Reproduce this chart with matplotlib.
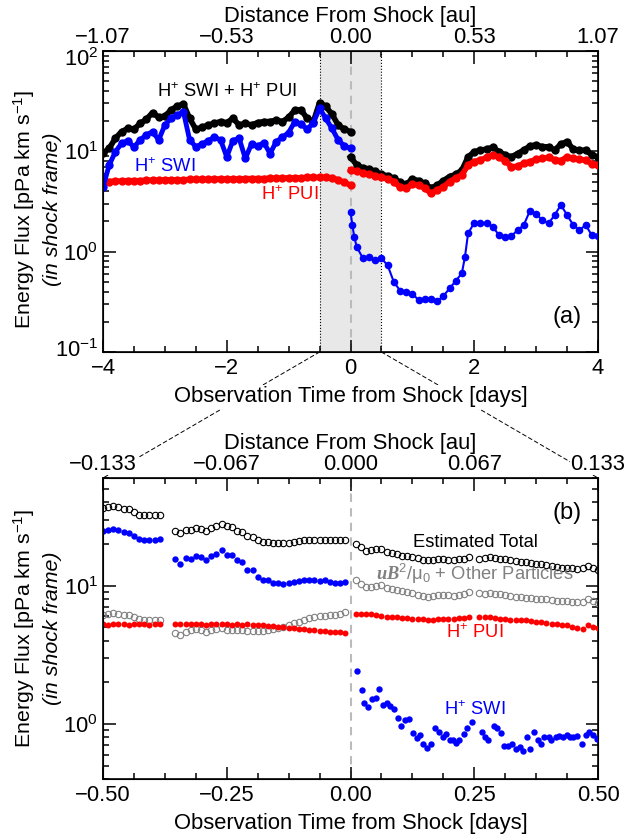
import numpy as np
import matplotlib
matplotlib.use("Agg")
import matplotlib.pyplot as plt
from matplotlib.ticker import MultipleLocator, NullFormatter, LogLocator
from matplotlib.patches import ConnectionPatch
from matplotlib.transforms import ScaledTranslation

plt.rcParams['font.family'] = ['Liberation Sans', 'DejaVu Sans']
plt.rcParams['mathtext.fontset'] = 'custom'
plt.rcParams['mathtext.rm'] = 'Liberation Sans'
plt.rcParams['mathtext.it'] = 'Liberation Sans:italic'
plt.rcParams['mathtext.bf'] = 'Liberation Sans:bold'
plt.rcParams['mathtext.bfit'] = 'Liberation Serif:italic:bold'

# ---- panel (a): -4 .. 4 days ----
t_a_pre = np.round(np.arange(-4.0, 0.001, 0.1), 2)
total_a_pre = [9.6, 10.7, 13.5, 15.7, 16.9, 16.6, 19.0, 20.8, 24.3, 21.8, 22.5, 25.8, 28.3, 29.6,
               21.3, 16.6, 17.3, 18.3, 19.0, 19.8, 19.3, 21.3, 18.3, 19.0, 18.3, 19.3, 19.8, 19.8,
               20.5, 19.8, 21.8, 25.8, 25.8, 21.3, 19.8, 30.6, 28.0, 23.5, 18.3, 16.6, 15.7]
swi_a_pre = [4.4, 7.3, 9.9, 12.0, 12.8, 11.0, 13.0, 14.6, 15.7, 13.0, 18.3, 21.3, 23.0, 24.8,
             13.0, 11.1, 11.8, 12.8, 13.8, 13.0, 8.8, 12.8, 13.5, 8.5, 11.8, 11.3, 12.2, 9.5,
             12.5, 13.8, 15.4, 19.8, 18.7, 16.6, 19.3, 26.8, 21.3, 16.9, 13.0, 11.3, 10.7]
pui_a_pre = [5.0, 5.0, 5.05, 5.05, 5.1, 5.1, 5.1, 5.15, 5.15, 5.15, 5.2, 5.2, 5.2, 5.2,
             5.25, 5.25, 5.25, 5.25, 5.3, 5.3, 5.3, 5.3, 5.3, 5.35, 5.35, 5.35, 5.35, 5.4,
             5.4, 5.4, 5.45, 5.45, 5.45, 5.5, 5.5, 5.5, 5.5, 5.45, 5.2, 4.9, 4.6]

t_a_post = np.round(np.arange(0.0, 4.001, 0.1), 2)
total_a_post = [8.8, 7.3, 6.8, 6.7, 6.3, 5.9, 5.7, 5.4, 4.9, 4.7,
                5.3, 5.1, 4.8, 4.3, 4.6, 5.1, 5.6, 5.9, 6.5, 8.8,
                9.9, 10.3, 10.5, 11.0, 9.9, 9.2, 8.8, 9.5, 10.3, 11.3,
                11.6, 11.1, 11.1, 10.3, 11.8, 12.5, 10.5, 10.2, 10.3, 9.2, 8.8]
pui_a_post = [6.5, 6.3, 6.1, 5.9, 5.7, 5.5, 5.3, 5.0, 4.4, 4.3,
              4.7, 4.6, 4.3, 3.8, 4.1, 4.4, 5.0, 5.4, 5.8, 7.3,
              7.9, 8.2, 8.7, 9.2, 8.7, 8.1, 7.0, 7.1, 7.6, 7.9,
              8.3, 8.5, 8.7, 8.2, 8.1, 8.8, 8.5, 8.3, 8.2, 7.5, 7.3]
t_swi_a_post = [0.0, 0.03, 0.06, 0.1, 0.2, 0.3, 0.4, 0.5, 0.6, 0.7, 0.8, 0.9, 1.0, 1.1, 1.2,
                1.3, 1.4, 1.5, 1.6, 1.7, 1.8, 1.85, 1.9, 2.0, 2.1, 2.2, 2.3, 2.4, 2.5, 2.6,
                2.7, 2.8, 2.9, 3.0, 3.1, 3.2, 3.3, 3.4, 3.5, 3.6, 3.7, 3.8, 3.9, 4.0]
swi_a_post = [2.5, 1.84, 1.41, 1.12, 0.86, 0.89, 0.82, 0.86, 0.73, 0.50, 0.41, 0.40, 0.38, 0.33, 0.34,
              0.34, 0.32, 0.36, 0.43, 0.51, 0.61, 0.89, 1.52, 1.94, 1.91, 1.94, 1.77, 1.46, 1.41, 1.43,
              1.64, 1.84, 2.56, 2.37, 2.07, 1.91, 2.32, 2.92, 2.32, 1.84, 1.64, 1.84, 1.46, 1.43]

# ---- panel (b): -0.5 .. 0.5 days, 15 min cadence with data gaps ----
k_b = np.concatenate([np.arange(-48, -36), np.arange(-34, 0), np.arange(1, 24), np.arange(25, 49)])
t_b = k_b / 96.0
total_b = [36.6, 37.0, 37.4, 36.8, 36.0, 35.6, 34.0, 32.6, 32.2, 32.4, 32.4, 32.4,
           25.0, 24.0, 25.2, 25.3, 26.3, 25.6, 25.0, 26.3, 26.8, 28.0, 27.0, 26.6, 25.0, 24.6,
           22.8, 22.6, 21.5, 20.8, 20.6, 20.2, 20.3, 20.2, 20.5, 20.7, 20.9, 21.2, 21.4, 21.4,
           21.3, 21.3, 21.3, 21.3, 21.2, 21.3,
           20.0, 18.9, 17.9, 18.0, 18.3, 18.4, 17.4, 17.1, 16.8, 16.4, 16.3, 16.1, 15.8, 15.4,
           15.2, 15.3, 15.6, 15.6, 15.3, 15.3, 15.5, 15.7, 16.0,
           15.6, 15.9, 16.2, 15.9, 15.6, 15.6, 15.3, 15.1, 14.8, 14.7, 14.5, 14.3, 14.3, 14.1,
           13.9, 13.7, 13.5, 13.4, 13.4, 13.2, 13.5, 13.9, 13.5, 13.0]
other_b = [6.18, 6.22, 6.30, 6.20, 6.15, 6.10, 5.95, 5.70, 5.62, 5.60, 5.64, 5.66,
           4.55, 4.42, 4.66, 4.74, 4.82, 4.74, 4.60, 4.78, 4.82, 4.92, 4.79, 4.80, 4.76, 4.76,
           4.67, 4.72, 4.68, 4.70, 4.74, 4.88, 4.96, 5.03, 5.18, 5.33, 5.50, 5.68, 5.84, 5.94,
           6.00, 6.07, 6.13, 6.18, 6.25, 6.40,
           11.0, 10.2, 9.75, 9.85, 9.99, 10.1, 9.6, 9.45, 9.3, 9.1, 8.93, 8.8, 8.6, 8.45,
           8.34, 8.4, 8.56, 8.6, 8.5, 8.47, 8.5, 8.7, 8.95,
           8.9, 8.75, 8.9, 8.75, 8.65, 8.5, 8.36, 8.34, 8.25, 8.17, 8.11, 8.03, 8.02, 7.94,
           7.89, 7.8, 7.8, 7.72, 7.67, 7.6, 7.67, 8.0, 7.8, 7.5]
pui_b = [5.24, 5.22, 5.24, 5.25, 5.24, 5.23, 5.24, 5.25, 5.24, 5.23, 5.24, 5.24,
         5.24, 5.25, 5.24, 5.24, 5.25, 5.24, 5.23, 5.24, 5.25, 5.24, 5.24, 5.23, 5.24, 5.23,
         5.24, 5.22, 5.20, 5.16, 5.13, 5.10, 5.06, 5.02, 4.98, 4.94, 4.88, 4.84, 4.80, 4.77,
         4.73, 4.70, 4.66, 4.62, 4.59, 4.56,
         6.25, 6.24, 6.22, 6.2, 6.15, 6.05, 5.98, 5.95, 5.9, 5.85, 5.8, 5.77, 5.74, 5.7,
         5.69, 5.69, 5.72, 5.74, 5.76, 5.78, 5.8, 5.85, 5.9,
         5.92, 5.95, 5.9, 5.85, 5.76, 5.72, 5.68, 5.65, 5.62, 5.6, 5.55, 5.5, 5.44, 5.38,
         5.3, 5.27, 5.2, 5.15, 5.03, 4.9, 4.85, 5.15, 5.03, 4.9]
swi_b_pre = [24.8, 25.2, 25.8, 25.4, 24.4, 24.2, 23.0, 21.8, 21.4, 21.4, 21.4, 21.6,
             15.6, 14.3, 15.8, 15.7, 16.4, 16.0, 15.2, 16.5, 16.8, 18.0, 16.7, 16.6, 15.4, 14.8,
             12.9, 12.9, 11.5, 11.0, 10.9, 10.4, 10.4, 10.2, 10.4, 10.6, 10.8, 11.0, 11.0, 11.0,
             10.8, 11.0, 10.7, 10.4, 10.4, 10.6]
t_swi_b_post = [0.0125, 0.0226, 0.028, 0.036, 0.043, 0.052, 0.058, 0.065, 0.073, 0.080,
                0.088, 0.095, 0.103, 0.110, 0.119, 0.126, 0.134, 0.140, 0.147, 0.154,
                0.162, 0.171, 0.179, 0.186, 0.193, 0.201, 0.208, 0.213, 0.220, 0.229,
                0.236, 0.245, 0.265, 0.272, 0.278, 0.289, 0.295, 0.304, 0.311, 0.319,
                0.326, 0.334, 0.343, 0.349, 0.356, 0.363, 0.371, 0.378, 0.385, 0.391,
                0.400, 0.406, 0.415, 0.422, 0.429, 0.437, 0.444, 0.450, 0.458, 0.467,
                0.475, 0.482, 0.489, 0.497]
swi_b_post = [2.40, 1.75, 1.41, 1.32, 1.51, 1.53, 1.78, 1.38, 1.41, 1.35,
              1.29, 1.10, 0.97, 1.07, 1.08, 0.86, 0.79, 0.83, 0.72, 0.67,
              0.72, 0.94, 0.87, 0.81, 0.84, 0.77, 0.77, 0.73, 0.77, 0.84,
              0.94, 1.04, 0.88, 0.81, 0.77, 0.96, 0.93, 0.86, 0.69, 0.69,
              0.72, 0.66, 0.68, 0.64, 0.80, 0.66, 0.88, 0.77, 0.72, 0.80,
              0.81, 0.77, 0.81, 0.82, 0.81, 0.83, 0.81, 0.80, 0.82, 0.72,
              0.83, 0.87, 0.83, 0.78]

ticks_a = [-4, -2, 0, 2, 4]
bot_labels_a = ['\u22124', '\u22122', '0', '2', '4']
top_labels_a = ['\u22121.07', '\u22120.53', '0.00', '0.53', '1.07']
yticks_a = [0.1, 1, 10, 100]
ticks_b = [-0.5, -0.25, 0, 0.25, 0.5]
bot_labels_b = ['\u22120.50', '\u22120.25', '0.00', '0.25', '0.50']
top_labels_b = ['\u22120.133', '\u22120.067', '0.000', '0.067', '0.133']
yticks_b = [1, 10]

FS = 15.8
TFS = 13.2
BLUE = '#0000ff'
RED = '#ff0000'
GRAY = '#808080'

fig = plt.figure(figsize=(6.26, 8.36), dpi=100)
ax_a = fig.add_axes([103/626, (836-352)/836, 495/626, 301/836])
ax_b = fig.add_axes([103/626, (836-779)/836, 495/626, 301/836])


def style_axes(ax, ticks, minor, labels, top_labels, yticks):
    ax.set_yscale('log')
    ax.set_yticks(yticks)
    ax.set_xticks(ticks)
    ax.set_xticklabels(labels)
    ax.xaxis.set_minor_locator(MultipleLocator(minor))
    ax.yaxis.set_minor_locator(LogLocator(subs=np.arange(2, 10)))
    ax.yaxis.set_minor_formatter(NullFormatter())
    ax.tick_params(which='both', direction='in', top=False, right=True, labelsize=FS, width=1.1)
    ax.tick_params(axis='x', pad=4.5)
    ax.tick_params(which='major', length=9)
    ax.tick_params(which='minor', length=4.5)
    for s in ax.spines.values():
        s.set_linewidth(1.2)
    top = ax.twiny()
    top.set_xlim(ax.get_xlim())
    top.set_xticks(ticks)
    top.set_xticklabels(top_labels)
    top.xaxis.set_minor_locator(MultipleLocator(minor))
    top.tick_params(which='both', direction='in', labelsize=FS, width=1.1, pad=2.5)
    top.tick_params(which='major', length=9)
    top.tick_params(which='minor', length=4.5)
    top.set_xlabel('Distance From Shock [au]', fontsize=FS, labelpad=3)
    return top


def ylabel(ax, y):
    ax.text(-0.160, y, 'Energy Flux [pPa km s$^{-1}$]', transform=ax.transAxes,
            rotation=90, ha='center', va='center', fontsize=15.4)
    ax.text(-0.103, y, '(in shock frame)', transform=ax.transAxes, style='italic',
            rotation=90, ha='center', va='center', fontsize=15.4)


# ---- panel (a) ----
ax_a.set_xlim(-4, 4)
ax_a.set_ylim(0.1, 100)
ax_a.axvspan(-0.5, 0.5, color='#e8e8e8', zorder=0, lw=0)
ax_a.axvline(-0.5, color='k', ls=':', lw=0.8, zorder=1)
ax_a.axvline(0.5, color='k', ls=':', lw=0.8, zorder=1)
ax_a.axvline(0, color='#bbbbbb', ls=(0, (4, 3)), lw=1.5, zorder=1)

ax_a.plot(t_a_pre, total_a_pre, '-o', color='k', lw=4, ms=5, zorder=3)
ax_a.plot(t_a_post, total_a_post, '-o', color='k', lw=4, ms=5, zorder=3)
ax_a.plot(t_a_pre, pui_a_pre, '-o', color=RED, lw=4, ms=5, zorder=4)
ax_a.plot(t_a_post, pui_a_post, '-o', color=RED, lw=4, ms=5, zorder=4)
ax_a.plot(t_a_pre, swi_a_pre, '-o', color=BLUE, lw=3.5, ms=5, zorder=5)
ax_a.plot(t_swi_a_post, swi_a_post, '-o', color=BLUE, lw=1.5, ms=4.5, zorder=5)

top_a = style_axes(ax_a, ticks_a, 0.5, bot_labels_a, top_labels_a, yticks_a)
ax_a.set_xlabel('Observation Time from Shock [days]', fontsize=FS, labelpad=5,
                bbox=dict(facecolor='white', edgecolor='none', pad=1))
ylabel(ax_a, 0.475)

# IDL-like placement of the end labels of the log axis
yt = ax_a.yaxis.get_major_ticks()
yt[0].label1.set_transform(yt[0].label1.get_transform() + ScaledTranslation(0, 4/100, fig.dpi_scale_trans))
yt[-1].label1.set_transform(yt[-1].label1.get_transform() + ScaledTranslation(0, -6/100, fig.dpi_scale_trans))

ax_a.text(0.25, 0.864, 'H$^{+}$ SWI + H$^{+}$ PUI', transform=ax_a.transAxes,
          ha='center', va='center', fontsize=TFS, color='k')
ax_a.text(0.125, 0.615, 'H$^{+}$ SWI', transform=ax_a.transAxes,
          ha='center', va='center', fontsize=TFS, color=BLUE)
ax_a.text(0.378, 0.522, 'H$^{+}$ PUI', transform=ax_a.transAxes,
          ha='center', va='center', fontsize=TFS, color=RED)
ax_a.text(0.937, 0.116, '(a)', transform=ax_a.transAxes,
          ha='center', va='center', fontsize=17)

# ---- panel (b) ----
ax_b.set_xlim(-0.5, 0.5)
ax_b.set_ylim(0.4, 60)
ax_b.axvline(0, color='#bbbbbb', ls=(0, (4, 3)), lw=1.5, zorder=1)

n_pre = 46
ax_b.plot(t_b, total_b, 'o', mfc='none', mec='k', ms=4.6, mew=0.8, zorder=3)
ax_b.plot(t_b, other_b, 'o', mfc='none', mec=GRAY, ms=4.6, mew=0.8, zorder=3)
ax_b.plot(t_b, pui_b, 'o', color=RED, ms=4.3, mew=0, zorder=4)
ax_b.plot(t_b[:n_pre], swi_b_pre, 'o', color=BLUE, ms=4.6, mew=0, zorder=4)
ax_b.plot(t_swi_b_post, swi_b_post, 'o', color=BLUE, ms=4.6, mew=0, zorder=4)

top_b = style_axes(ax_b, ticks_b, 0.0625, bot_labels_b, top_labels_b, yticks_b)
for lbl in top_b.get_xticklabels():
    lbl.set_bbox(dict(facecolor='white', edgecolor='none', pad=0.5))
ax_b.set_xlabel('Observation Time from Shock [days]', fontsize=FS, labelpad=5)
ylabel(ax_b, 0.5)

ax_b.text(0.752, 0.787, 'Estimated Total', transform=ax_b.transAxes,
          ha='center', va='center', fontsize=TFS, color='k')
ax_b.text(0.752, 0.681, '$\\mathbfit{uB}^{2}$/\u03bc$_{0}$ + Other Particles',
          transform=ax_b.transAxes, ha='center', va='center', fontsize=TFS, color=GRAY)
ax_b.text(0.752, 0.485, 'H$^{+}$ PUI', transform=ax_b.transAxes,
          ha='center', va='center', fontsize=TFS, color=RED)
ax_b.text(0.752, 0.229, 'H$^{+}$ SWI', transform=ax_b.transAxes,
          ha='center', va='center', fontsize=TFS, color=BLUE)
ax_b.text(0.937, 0.884, '(b)', transform=ax_b.transAxes,
          ha='center', va='center', fontsize=17)

# zoom connector lines
for xa, xb in [(-0.5, 0), (0.5, 1)]:
    con = ConnectionPatch(xyA=(xa, 0.1), coordsA=ax_a.transData, xyB=(xb, 1), coordsB=ax_b.transAxes,
                          color='k', lw=0.7, ls=(0, (4, 3)), zorder=-1)
    fig.add_artist(con)

fig.savefig('out.png', dpi=100)
